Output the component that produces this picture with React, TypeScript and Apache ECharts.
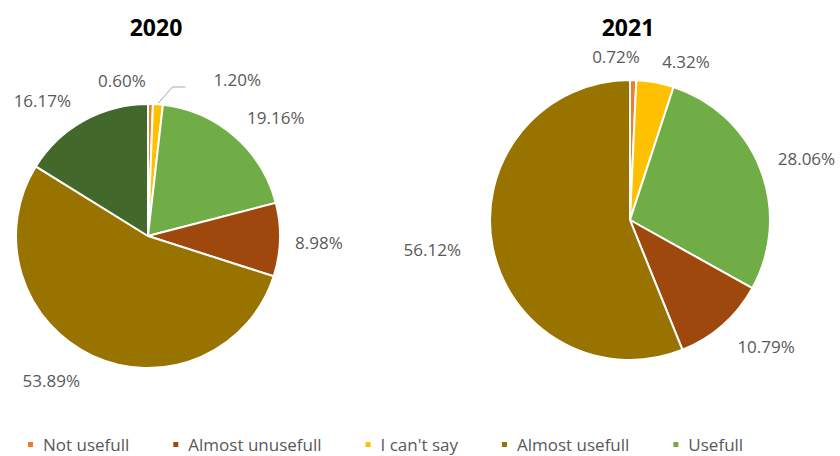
import React, { useEffect, useRef } from "react";
import * as echarts from "echarts";

const CATEGORIES = ["Not usefull", "I can't say", "Usefull", "Almost unusefull", "Almost usefull", "Very usefull"];
const LEGEND_ITEMS = ["Not usefull", "Almost unusefull", "I can't say", "Almost usefull", "Usefull"];
const VALUES_2020 = [0.6, 1.2, 19.16, 8.98, 53.89, 16.17];
const VALUES_2021 = [0.72, 4.32, 28.06, 10.79, 56.12];
const TITLES = ["2020", "2021"];

const COLORS: Record<string, string> = {
  "Not usefull": "#ED7D31",
  "Almost unusefull": "#9E480E",
  "I can't say": "#FFC000",
  "Almost usefull": "#997300",
  "Usefull": "#70AD47",
  "Very usefull": "#43682B",
};

// label placement: [angle adjustment (deg), extra distance beyond radius (px)]
const ADJ_2020 = [[-10.6, 26], [25.4, 48], [6.3, 42], [0.4, 39], [9, 42], [-8.8, 40]];
const ADJ_2021 = [[-6.2, 24], [9.1, 28], [2, 47], [-5.6, 46], [2.4, 60]];

function makeSeries(values: number[], center: [number, number], radius: number, adj: number[][], lineIdx: number) {
  const total = values.reduce((a, b) => a + b, 0);
  const mids: number[] = [];
  let cum = 0;
  values.forEach((v) => {
    mids.push(((cum + v / 2) / total) * 360);
    cum += v;
  });
  const polar = (deg: number, d: number) => {
    const r = (deg * Math.PI) / 180;
    return [center[0] + d * Math.sin(r), center[1] - d * Math.cos(r)];
  };
  return {
    type: "pie",
    center,
    radius,
    startAngle: 90,
    clockwise: true,
    avoidLabelOverlap: false,
    itemStyle: { borderColor: "#ffffff", borderWidth: 2 },
    label: {
      show: true,
      position: "outside",
      formatter: (p: any) => p.value.toFixed(2) + "%",
      color: "#595959",
      fontFamily: "Open Sans",
      fontSize: 17,
    },
    labelLine: { show: false },
    emphasis: { disabled: true },
    labelLayout: (params: any) => {
      const i = params.dataIndex;
      const a = adj[i];
      const pos = polar(mids[i] + a[0], radius + a[1]);
      const res: any = { x: pos[0], y: pos[1], align: "center", verticalAlign: "middle" };
      if (i === lineIdx) {
        const p0 = polar(mids[i], radius + 1);
        const p1 = polar(mids[i] + 5, radius + 19);
        res.labelLinePoints = [p0, p1, [p1[0] + 13, p1[1]]];
      }
      return res;
    },
    data: values.map((v, i) => ({
      name: CATEGORIES[i],
      value: v,
      itemStyle: { color: COLORS[CATEGORIES[i]] },
      labelLine: i === lineIdx ? { show: true, lineStyle: { color: "#A6A6A6", width: 1 }, length: 10, length2: 10 } : { show: false },
    })),
  };
}

export default function App() {
  const ref = useRef<HTMLDivElement>(null);
  useEffect(() => {
    if (!ref.current) return;
    const chart = echarts.init(ref.current, null, { renderer: "svg" });
    chart.setOption({
      animation: false,
      backgroundColor: "#ffffff",
      title: [
        {
          text: TITLES[0],
          left: 151,
          top: 22,
          textAlign: "center",
          textVerticalAlign: "middle",
          textStyle: { fontFamily: "Open Sans", fontWeight: "bold", fontSize: 23, color: "#000000" },
        },
        {
          text: TITLES[1],
          left: 623,
          top: 22,
          textAlign: "center",
          textVerticalAlign: "middle",
          textStyle: { fontFamily: "Open Sans", fontWeight: "bold", fontSize: 23, color: "#000000" },
        },
      ],
      legend: {
        data: LEGEND_ITEMS,
        left: 26,
        top: 436,
        padding: 0,
        icon: "rect",
        itemWidth: 7,
        itemHeight: 7,
        itemGap: 42,
        textStyle: { fontFamily: "Open Sans", fontSize: 17, lineHeight: 17, color: "#595959", padding: [0, 0, 0, 4] },
        selectedMode: false,
      },
      series: [
        makeSeries(VALUES_2020, [148, 236], 132, ADJ_2020, 1),
        makeSeries(VALUES_2021, [630, 220], 140, ADJ_2021, -1),
      ],
    });
    return () => chart.dispose();
  }, []);
  return <div ref={ref} style={{ position: "fixed", left: 0, top: 0, width: 840, height: 456 }} />;
}
